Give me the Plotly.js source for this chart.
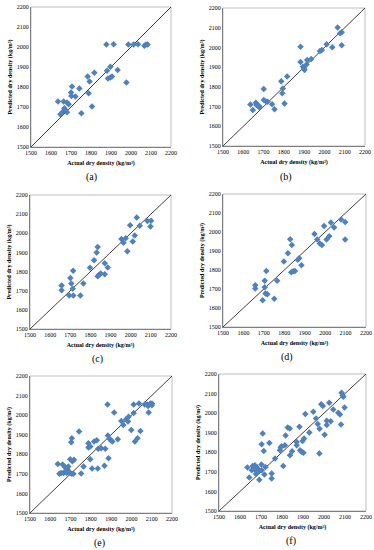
<!DOCTYPE html>
<html>
<head>
<meta charset="utf-8">
<script src="https://cdn.plot.ly/plotly-3.0.1.min.js"></script>
<style>html,body{margin:0;padding:0;background:#fff;}#chart{width:374px;height:550px;}</style>
</head>
<body>
<div id="chart"></div>
<script>
// Axis range and tick labels
const axisRange = [1500, 2200];
const tickVals = [1500, 1600, 1700, 1800, 1900, 2000, 2100, 2200];
const panelLabels = ["(a)", "(b)", "(c)", "(d)", "(e)", "(f)"];
const xTitle = "<b>Actual dry density (kg/m³)</b>";
const yTitle = "<b>Predicted dry density (kg/m³)</b>";

// (a)
const aActual = [1877,1913,1987,2013,2035,2067,2075,2083,1635,1663,1680,1688,1667,1670,1660,1647,1680,1705,1700,1702,1722,1742,1752,1783,1793,1788,1817,1805,1880,1885,1897,1905,1897,1933,1977];
const aPred   = [2012,2014,2012,2012,2014,2006,2012,2012,1727,1727,1722,1714,1694,1686,1677,1664,1674,1802,1772,1755,1752,1793,1669,1852,1827,1769,1871,1702,1881,1843,1848,1852,1901,1885,1823];
// (b)
const bActual = [1882,1882,1894,1899,1902,1912,1915,1935,1978,1987,2011,2039,2065,2077,2085,2085,1787,1795,1792,1816,1803,1754,1742,1701,1701,1712,1720,1635,1647,1662,1668,1673,1680,1665,1680];
const bPred   = [2004,1926,1902,1894,1885,1914,1936,1941,1982,1987,2016,2001,2101,2072,2077,2011,1829,1792,1767,1853,1716,1687,1712,1789,1733,1726,1724,1711,1682,1720,1711,1704,1695,1708,1700];
// (c)
const cActual = [1657,1657,1700,1705,1714,1712,1695,1715,1750,1765,1798,1818,1831,1836,1836,1843,1851,1871,1886,1871,1954,1964,1975,1983,1997,2010,2020,2030,2045,2083,2101,2098];
const cPred   = [1727,1703,1767,1738,1804,1710,1675,1675,1675,1738,1820,1859,1899,1929,1776,1783,1790,1844,1821,1786,1970,1951,1974,1906,2042,1957,1988,2082,2040,2064,2066,2035];
// (d)
const dActual = [1658,1658,1704,1704,1712,1708,1717,1694,1751,1765,1798,1818,1829,1837,1834,1844,1852,1866,1873,1884,1948,1961,1974,1984,1995,2007,2020,2028,2044,2078,2098,2098];
const dPred   = [1720,1702,1743,1709,1795,1676,1672,1641,1649,1743,1845,1888,1962,1932,1788,1793,1795,1854,1862,1825,1989,1960,1939,1932,2032,1960,1978,2050,2024,2066,2053,1960];
// (e)
const eActual = [1637,1645,1653,1665,1661,1673,1681,1675,1689,1681,1698,1706,1698,1709,1717,1714,1703,1706,1742,1752,1764,1788,1788,1797,1797,1806,1816,1829,1836,1851,1834,1867,1871,1882,1884,1892,1899,1887,1933,1915,1950,1960,1974,1983,1986,1999,2011,2011,2017,2030,2044,2037,2065,2077,2093,2101,2101,2082,2085,1906,1687];
const ePred   = [1750,1700,1704,1704,1748,1734,1727,1714,1738,1704,1704,1700,1775,1765,1772,1700,1862,1882,1916,1702,1738,1857,1835,1840,1775,1728,1865,1872,1828,1831,1728,1741,1828,2055,1896,1880,1870,1780,1877,2013,1970,1950,1979,1967,1992,1924,2011,2055,1865,1882,1919,2060,2055,2055,2060,2060,2050,2047,2013,1865,1718];
// (f)
const fActual = [1635,1644,1656,1660,1665,1671,1679,1671,1683,1687,1676,1692,1702,1703,1708,1703,1713,1716,1721,1740,1751,1751,1767,1790,1794,1798,1806,1814,1817,1827,1837,1838,1848,1870,1870,1883,1886,1894,1902,1898,1905,1911,1930,1949,1962,1970,1979,1978,1987,1994,2003,2013,2013,2025,2032,2044,2068,2076,2081,2084,2089,2092,2098];
const fPred   = [1722,1671,1708,1730,1722,1734,1725,1712,1717,1700,1689,1660,1737,1708,1896,1841,1807,1686,1725,1848,1691,1666,1768,1811,1824,1831,1730,1836,1886,1927,1922,1785,1805,1853,1836,1930,1811,1802,1797,1858,1870,1995,1901,2007,1973,1944,1920,1794,2046,2036,1889,1961,1939,2053,1959,2019,2002,1993,1942,2104,2092,2084,2029];

const actualSets = [aActual, bActual, cActual, dActual, eActual, fActual];
const predSets = [aPred, bPred, cPred, dPred, ePred, fPred];

// panel geometry (pixels in the 374x550 picture)
const W = 374, H = 550;
const boxes = [
  {l:31, r:171, t:7,   b:147},
  {l:223, r:365, t:8,  b:146},
  {l:30, r:171, t:195, b:329},
  {l:223, r:366, t:194, b:327},
  {l:30, r:172, t:376, b:513},
  {l:219, r:366, t:374, b:511}
];
const labelPos = [
  {x:91, y:177}, {x:286, y:177},
  {x:97, y:359}, {x:287, y:357},
  {x:99, y:543}, {x:291, y:541}
];

const serif = "Liberation Serif, Times New Roman, serif";
const traces = [];
const layout = {
  width: W, height: H,
  margin: {l:0, r:0, t:0, b:0},
  paper_bgcolor: "#ffffff",
  plot_bgcolor: "#ffffff",
  showlegend: false,
  font: {family: serif, size: 6, color: "#000"},
  shapes: [],
  annotations: []
};

boxes.forEach((bx, i) => {
  const n = i === 0 ? "" : String(i + 1);
  const xa = "x" + n, ya = "y" + n;
  const common = {
    range: axisRange,
    tickvals: tickVals,
    ticktext: tickVals.map(String),
    showgrid: false,
    zeroline: false,
    showline: true,
    linecolor: "#7f7f7f",
    linewidth: 1,
    ticks: "",
    tickfont: {family: serif, size: 6, color: "#000"},
    fixedrange: true
  };
  layout["xaxis" + n] = Object.assign({}, common, {
    domain: [bx.l / W, bx.r / W],
    anchor: ya,
    title: {text: xTitle, font: {family: serif, size: 6, color: "#000"}, standoff: 5}
  });
  layout["yaxis" + n] = Object.assign({}, common, {
    domain: [1 - bx.b / H, 1 - bx.t / H],
    anchor: xa,
    title: {text: yTitle, font: {family: serif, size: 6, color: "#000"}, standoff: 3}
  });
  layout.shapes.push({
    type: "rect", xref: xa + " domain", yref: ya + " domain",
    x0: 0, x1: 1, y0: 0, y1: 1,
    line: {color: "#bfbfbf", width: 1}, layer: "below"
  });
  // 1:1 line
  traces.push({
    x: axisRange, y: axisRange, xaxis: xa, yaxis: ya,
    mode: "lines", line: {color: "#404040", width: 1},
    hoverinfo: "skip"
  });
  traces.push({
    x: actualSets[i], y: predSets[i], xaxis: xa, yaxis: ya,
    mode: "markers", type: "scatter",
    marker: {symbol: "diamond", size: 5, color: "#4f81bd", line: {width: 0}}
  });
  layout.annotations.push({
    text: panelLabels[i], xref: "paper", yref: "paper",
    x: labelPos[i].x / W, y: 1 - labelPos[i].y / H,
    xanchor: "center", yanchor: "middle", showarrow: false,
    font: {family: serif, size: 10, color: "#000"}
  });
});

Plotly.newPlot("chart", traces, layout, {staticPlot: true, displayModeBar: false});
</script>
</body>
</html>
